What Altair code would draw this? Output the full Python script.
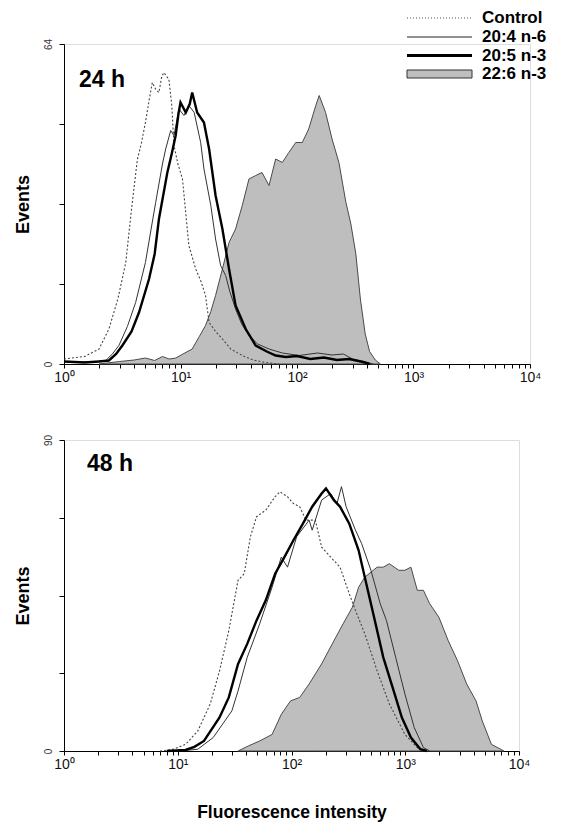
import altair as alt
import pandas as pd

FONT = "Liberation Sans"
series_names = ["Control", "20:4 n-6", "20:5 n-3", "22:6 n-3"]

# ---------------- 24 h panel ----------------
top_control_x = [1.0, 1.5, 2.0, 2.43, 2.9, 3.39, 3.8, 4.27, 4.6, 5.0, 5.4, 5.73, 6.1, 6.53, 6.9, 7.21, 7.6, 7.94, 8.4, 8.79, 9.5, 10.4, 11.8, 13.5, 15.0, 16.4, 17.6, 20.0, 22.9, 27.0, 33.9, 42.0, 53.7, 70.0]
top_control_y = [1.0, 1.5, 3.0, 7.0, 13, 20.3, 31, 41, 44, 48.3, 53, 56.3, 55, 54.3, 57.5, 58.3, 57.5, 57, 52, 43.7, 40, 37, 23.7, 19, 16.5, 13.7, 8.3, 6.5, 5, 3, 1.7, 0.8, 0.3, 0]

top_ara_x = [1.0, 1.6, 2.28, 2.6, 2.96, 3.5, 4.12, 5.0, 5.5, 6.12, 7.0, 7.46, 8.24, 8.79, 9.7, 10.7, 11.8, 13.1, 14.9, 15.9, 18.2, 20.0, 22.1, 24.4, 26.5, 29.7, 33.5, 38.7, 46, 57.5, 75, 104, 150, 200, 250, 300, 400, 450]
top_ara_y = [0.5, 0.4, 0.7, 2.0, 3.7, 7.5, 12.3, 20.3, 26, 32.3, 40, 43, 46.7, 45.7, 51, 49.7, 51.7, 50.3, 44.3, 39, 31.7, 25, 19.7, 17.7, 14.5, 11, 8, 5.7, 4, 3, 2.2, 1.7, 2.2, 1.8, 2.0, 1.0, 0.3, 0]

top_epa_x = [1.0, 1.5, 2.0, 2.43, 2.8, 3.17, 3.8, 4.4, 5.37, 6.0, 6.53, 7.71, 8.4, 9.09, 9.6, 10.0, 11.1, 12.0, 12.6, 13.9, 15.9, 17.6, 20.0, 22.9, 26.1, 29.7, 36.3, 44.2, 55, 65.6, 80, 100, 130, 170, 220, 280, 370, 420]
top_epa_y = [0.5, 0.3, 0.5, 0.7, 2.0, 3.7, 6.5, 10.3, 17, 22, 29, 38.3, 42, 45.7, 50, 52.3, 50.3, 52, 54.3, 50.3, 48.3, 43, 33.7, 27, 19, 11.7, 7, 3.7, 2.5, 1.7, 1.4, 1.6, 1.0, 1.3, 0.8, 1.0, 0.4, 0]

top_dha_x = [2.0, 3.0, 4.0, 5.0, 6.0, 7.0, 8.0, 9.1, 10.5, 12.6, 14.5, 16.4, 18.2, 20.0, 22.9, 26.1, 29.7, 33.9, 38.7, 44.2, 50.1, 57.5, 65.6, 74.8, 85.1, 97.5, 111, 126, 145, 155, 176, 200, 229, 262, 290, 320, 350, 385, 420, 470, 520]
top_dha_y = [0, 0.5, 0.8, 1.2, 0.7, 1.5, 1.0, 1.2, 2.0, 3.0, 5.5, 7.7, 10.5, 13.7, 19, 24.3, 27, 31.7, 37, 37.7, 38.3, 35.7, 41, 40.3, 42.3, 44.3, 44.3, 47, 51.7, 53.7, 50.3, 45, 40.3, 32.5, 28, 22, 13, 6, 2.5, 0.8, 0]

# ---------------- 48 h panel ----------------
bot_control_x = [7.0, 9.1, 11.7, 15.0, 19.3, 23.3, 28.1, 33.9, 38.4, 43.5, 49.3, 59.4, 71.8, 78.9, 92.2, 104, 118, 134, 162, 184, 221, 267, 322, 365, 441, 566, 725, 993, 1276, 1445]
bot_control_y = [0, 0.5, 1.9, 5.8, 13.6, 23.2, 34.8, 49.4, 51.3, 62, 67.8, 69.7, 73.6, 75, 73.6, 71.6, 70.7, 66.8, 66.8, 59, 56.1, 53.2, 45.5, 40.7, 33.9, 23.2, 13.6, 4.8, 1.0, 0]

bot_ara_x = [9.0, 12.0, 15.0, 20.5, 29.9, 33.9, 40.8, 52.5, 67.5, 81.3, 92.2, 111, 143, 152, 184, 221, 251, 275, 302, 365, 414, 499, 603, 683, 824, 993, 1199, 1445, 1641]
bot_ara_y = [0, 0.2, 0.5, 3.9, 11.6, 17.4, 27.1, 36.8, 47.4, 56.1, 53.2, 62, 66.8, 63.9, 72.6, 74.5, 71.6, 76.5, 70.7, 63.9, 60, 52.3, 42.6, 37.8, 27.1, 16.5, 6.8, 1.0, 0]

bot_epa_x = [8.0, 11.7, 14.0, 17.0, 23.3, 28.1, 33.9, 40.8, 49.3, 59.4, 71.8, 86.6, 104, 126, 152, 184, 201, 236, 267, 322, 389, 441, 532, 641, 774, 934, 1122, 1358, 1549]
bot_epa_y = [0, 0.3, 1.2, 2.9, 9.7, 15.5, 25.2, 31, 37.8, 43.6, 51.3, 56.1, 61, 65.8, 70.7, 74.5, 76, 72.6, 70.7, 65.8, 58.1, 50.3, 38.7, 27.1, 18.4, 9.7, 3.9, 0.5, 0]

bot_dha_x = [33.9, 42.0, 52.5, 67.5, 81.3, 98, 118, 143, 184, 236, 284, 343, 389, 441, 566, 641, 725, 877, 993, 1122, 1276, 1445, 1641, 1977, 2388, 2884, 3467, 4188, 4753, 5728, 6918, 7362]
bot_dha_y = [0, 1.5, 2.9, 4.8, 10.6, 14.5, 15.5, 19.4, 25.2, 31.9, 36.8, 41.6, 47.4, 50.3, 53.2, 53.2, 54.2, 52.3, 52.3, 53.2, 46.5, 46.5, 42.6, 38.7, 31.9, 26.1, 19.4, 14.5, 8.7, 1.9, 0.5, 0]

x_tick_values = [1, 2, 3, 4, 5, 6, 7, 8, 9,
                 10, 20, 30, 40, 50, 60, 70, 80, 90,
                 100, 200, 300, 400, 500, 600, 700, 800, 900,
                 1000, 2000, 3000, 4000, 5000, 6000, 7000, 8000, 9000, 10000]
x_label_expr = ("datum.value == 1 ? '10\u2070' : datum.value == 10 ? '10\u00b9' : "
                "datum.value == 100 ? '10\u00b2' : datum.value == 1000 ? '10\u00b3' : "
                "datum.value == 10000 ? '10\u2074' : ''")


def sdf(xs, ys, name):
    return pd.DataFrame({"intensity": xs, "events": ys, "series": name})


def panel(data, ymax, yticks, width, height, tag, tag_xy, xtitle, legend):
    x_axis = alt.Axis(values=x_tick_values, labelExpr=x_label_expr, labelFlush=False,
                      labelOverlap=False, grid=False, tickSize=4, tickColor="black",
                      domainColor="black", labelFont=FONT, labelFontSize=14,
                      labelColor="#111", labelPadding=2, titleFont=FONT,
                      titleFontSize=17.5, titleFontWeight="bold", titleColor="black",
                      titlePadding=32)
    y_axis = alt.Axis(values=yticks, labelExpr=f"datum.value == 0 || datum.value == {ymax} ? datum.label : ''",
                      labelFlush=False, labelOverlap=False, grid=False, tickSize=5,
                      tickColor="black", domainColor="black", labelAngle=270,
                      labelAlign="center", labelBaseline="bottom", labelFont=FONT,
                      labelFontSize=10, labelColor="#333", labelPadding=6,
                      title="Events", titleFont=FONT, titleFontSize=18,
                      titleFontWeight="bold", titleColor="black", titlePadding=11)
    if xtitle:
        xenc = alt.X("intensity:Q", scale=alt.Scale(type="log", domain=[1, 10000]),
                     axis=x_axis, title=xtitle)
    else:
        xenc = alt.X("intensity:Q", scale=alt.Scale(type="log", domain=[1, 10000]),
                     axis=x_axis, title=None)
    yenc = alt.Y("events:Q", scale=alt.Scale(domain=[0, ymax], nice=False), axis=y_axis)

    control, ara, epa, dha = data
    area = alt.Chart(dha).mark_area(fill="#bebebe", stroke="#4a4a4a", strokeWidth=1,
                                    interpolate="linear").encode(x=xenc, y=yenc)
    l_control = alt.Chart(control).mark_line(color="#444", strokeWidth=1.1,
                                             strokeDash=[2, 2]).encode(x=xenc, y=yenc)
    l_ara = alt.Chart(ara).mark_line(color="#333", strokeWidth=1).encode(x=xenc, y=yenc)
    l_epa = alt.Chart(epa).mark_line(color="#000", strokeWidth=2.4).encode(x=xenc, y=yenc)
    tag_df = pd.DataFrame({"t": [tag]})
    tag_mark = alt.Chart(tag_df).mark_text(font=FONT, fontSize=23, fontWeight="bold",
                                           align="left", baseline="alphabetic",
                                           color="black").encode(
        text="t:N", x=alt.value(tag_xy[0]), y=alt.value(tag_xy[1]))
    layers = [area, l_control, l_ara, l_epa, tag_mark]
    if legend:
        ly = [-26, -7, 11.5, 30]
        lx0, lx1, tx = 343, 408, 418
        for i, nm in enumerate(series_names):
            d = pd.DataFrame({"name": [nm]})
            layers.append(alt.Chart(d).mark_text(font=FONT, fontSize=17, fontWeight="bold",
                                                 align="left", baseline="middle",
                                                 color="black").encode(
                text="name:N", x=alt.value(tx), y=alt.value(ly[i])))
        d0 = pd.DataFrame({"name": [series_names[0]]})
        layers.append(alt.Chart(d0).mark_rule(color="#555", strokeWidth=1,
                                              strokeDash=[1, 2]).encode(
            x=alt.value(lx0), x2=alt.value(lx1), y=alt.value(ly[0])))
        d1 = pd.DataFrame({"name": [series_names[1]]})
        layers.append(alt.Chart(d1).mark_rule(color="#222", strokeWidth=1).encode(
            x=alt.value(lx0), x2=alt.value(lx1), y=alt.value(ly[1])))
        d2 = pd.DataFrame({"name": [series_names[2]]})
        layers.append(alt.Chart(d2).mark_rule(color="#000", strokeWidth=3).encode(
            x=alt.value(lx0), x2=alt.value(lx1), y=alt.value(ly[2])))
        d3 = pd.DataFrame({"name": [series_names[3]]})
        layers.append(alt.Chart(d3).mark_rect(fill="#bebebe", stroke="#333",
                                              strokeWidth=1).encode(
            x=alt.value(lx0), x2=alt.value(lx1), y=alt.value(ly[3] - 4),
            y2=alt.value(ly[3] + 4)))
    return alt.layer(*layers).properties(width=width, height=height)


top = panel([sdf(top_control_x, top_control_y, series_names[0]),
             sdf(top_ara_x, top_ara_y, series_names[1]),
             sdf(top_epa_x, top_epa_y, series_names[2]),
             sdf(top_dha_x, top_dha_y, series_names[3])],
            64, [0, 16, 32, 48, 64], 466, 320, "24 h", (15, 43), None, True)

bottom = panel([sdf(bot_control_x, bot_control_y, series_names[0]),
                sdf(bot_ara_x, bot_ara_y, series_names[1]),
                sdf(bot_epa_x, bot_epa_y, series_names[2]),
                sdf(bot_dha_x, bot_dha_y, series_names[3])],
               90, [0, 22.5, 45, 67.5, 90], 455, 311, "48 h", (23, 31),
               "Fluorescence intensity", False)

chart = alt.vconcat(top, bottom, spacing=48).configure_view(stroke=None).configure(
    font=FONT, background="white").properties(
    padding={"top": 0, "left": 5, "right": 5, "bottom": 5})

chart.save("out.html", embed_options={"renderer": "svg", "actions": False})
